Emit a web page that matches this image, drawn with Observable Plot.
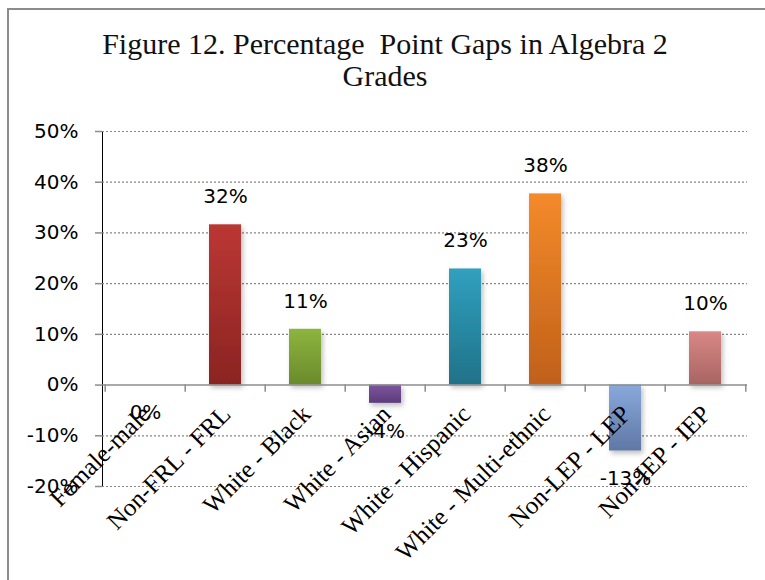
<!DOCTYPE html>
<html>
<head>
<meta charset="utf-8">
<script src="https://cdn.jsdelivr.net/npm/d3@7"></script>
<script src="https://cdn.jsdelivr.net/npm/@observablehq/plot@0.6"></script>
<style>
  html, body { margin: 0; padding: 0; background: #fff; }
  #wrap { position: relative; width: 765px; height: 580px; overflow: hidden; background: #fff; }
  #box { position: absolute; left: 7px; top: 8px; width: 800px; height: 620px; border: 2px solid #8c8c8c; box-sizing: border-box; }
  #title { position: absolute; left: 0; top: 28px; width: 770px; text-align: center; font-family: "Liberation Serif", "DejaVu Serif", serif; font-size: 30px; line-height: 32px; color: #111; }
  #chart { position: absolute; left: 0; top: 110px; }
</style>
</head>
<body>
<div id="wrap">
  <div id="box"></div>
  <div id="title">Figure 12. Percentage&nbsp; Point Gaps in Algebra 2<br>Grades</div>
  <div id="chart"></div>
</div>
<script>
const categories = ["Female-male", "Non-FRL - FRL", "White - Black", "White - Asian", "White - Hispanic", "White - Multi-ethnic", "Non-LEP - LEP", "Non-IEP - IEP"];
const values = [0.0, 0.316, 0.110, -0.036, 0.229, 0.377, -0.130, 0.105];
const valueLabels = ["0%", "32%", "11%", "-4%", "23%", "38%", "-13%", "10%"];
const colorTop = ["#e0e0e0", "#bb3733", "#8db53f", "#7d569d", "#31a0bf", "#f48a2a", "#89a9db", "#d88886"];
const colorBottom = ["#c8c8c8", "#8a2422", "#6a8a2c", "#5b3c7c", "#1f7288", "#c0601a", "#5f78a5", "#a86462"];
const yTicks = [-0.2, -0.1, 0, 0.1, 0.2, 0.3, 0.4, 0.5];
const gridTicks = [-0.2, -0.1, 0.1, 0.2, 0.3, 0.4, 0.5];

const data = categories.map((c, i) => ({cat: c, value: values[i], label: valueLabels[i], grad: `url(#grad${i})`}));

const W = 765, H = 470, ML = 102, MR = 18;
const step = (W - ML - MR) / categories.length;
const tickDepth = 0.014;

const chart = Plot.plot({
  width: W,
  height: H,
  marginLeft: ML,
  marginRight: MR,
  marginTop: 21,
  marginBottom: 94,
  style: {fontFamily: "'DejaVu Sans', sans-serif", fontSize: "20px", color: "#000", background: "transparent"},
  x: {domain: categories, paddingInner: 0.6, paddingOuter: 0.3, axis: null},
  y: {
    domain: [-0.2, 0.5],
    ticks: yTicks,
    tickFormat: d => Math.round(d * 100) + "%",
    tickSize: 7,
    tickPadding: 17,
    line: true,
    label: null
  },
  color: {type: "identity"},
  marks: [
    Plot.ruleY(gridTicks, {stroke: "#868686", strokeWidth: 1.2, strokeDasharray: "2,2"}),
    Plot.barY(data, {x: "cat", y: "value", fill: "grad"}),
    Plot.ruleY([0], {stroke: "#8c8c8c", strokeWidth: 1.5}),
    Plot.ruleX(categories, {x: d => d, y1: 0, y2: -tickDepth, dx: -step / 2, stroke: "#8c8c8c", strokeWidth: 1.5}),
    Plot.ruleX([categories[categories.length - 1]], {x: d => d, y1: 0, y2: -tickDepth, dx: step / 2, stroke: "#8c8c8c", strokeWidth: 1.5}),
    Plot.text(data, {x: "cat", y: "value", text: "label", lineAnchor: "middle", fontSize: 20,
      filter: d => d.value > 0, dy: -28}),
    Plot.text(data, {x: "cat", y: "value", text: "label", lineAnchor: "middle", fontSize: 20,
      filter: d => d.value <= 0, dy: 28}),
    Plot.text(data, {x: "cat", y: () => 0, text: "cat", rotate: -45, textAnchor: "end", lineAnchor: "middle",
      dx: 1, dy: 25, fontSize: 25, fontFamily: "'Liberation Serif', 'DejaVu Serif', serif"})
  ]
});

// gradients and shadow
const ns = "http://www.w3.org/2000/svg";
const defs = document.createElementNS(ns, "defs");
categories.forEach((c, i) => {
  const g = document.createElementNS(ns, "linearGradient");
  g.setAttribute("id", `grad${i}`);
  g.setAttribute("x1", "0"); g.setAttribute("y1", "0");
  g.setAttribute("x2", "0"); g.setAttribute("y2", "1");
  const s1 = document.createElementNS(ns, "stop");
  s1.setAttribute("offset", "0"); s1.setAttribute("stop-color", colorTop[i]);
  const s2 = document.createElementNS(ns, "stop");
  s2.setAttribute("offset", "1"); s2.setAttribute("stop-color", colorBottom[i]);
  g.appendChild(s1); g.appendChild(s2);
  defs.appendChild(g);
});
const f = document.createElementNS(ns, "filter");
f.setAttribute("id", "shadow");
f.setAttribute("x", "-50%"); f.setAttribute("y", "-20%");
f.setAttribute("width", "200%"); f.setAttribute("height", "140%");
const ds = document.createElementNS(ns, "feDropShadow");
ds.setAttribute("dx", "2"); ds.setAttribute("dy", "3");
ds.setAttribute("stdDeviation", "2.5");
ds.setAttribute("flood-color", "#000"); ds.setAttribute("flood-opacity", "0.25");
f.appendChild(ds);
defs.appendChild(f);
chart.insertBefore(defs, chart.firstChild);
const barGroup = chart.querySelector('g[aria-label="bar"]');
if (barGroup) barGroup.setAttribute("filter", "url(#shadow)");
chart.querySelectorAll('g[aria-label="y-axis"] path, g[aria-label="y-axis"] line, g[aria-label="y-axis tick"] path').forEach(p => { p.setAttribute("stroke", "#8c8c8c"); p.setAttribute("stroke-width", "1.5"); });

document.getElementById("chart").appendChild(chart);
</script>
</body>
</html>
